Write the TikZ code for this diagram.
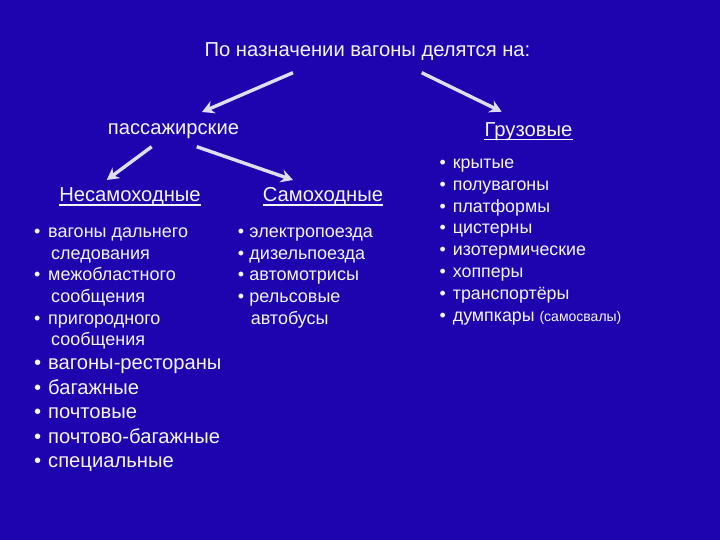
\documentclass[tikz,border=0pt]{standalone}
\usepackage{fontspec}
\setmainfont{Liberation Sans}
\usetikzlibrary{arrows.meta}
\definecolor{bg}{RGB}{30,4,174}
\definecolor{fg}{RGB}{244,244,250}
\definecolor{arrc}{RGB}{222,222,242}
\newcommand\bl[1][14pt]{\makebox[#1][l]{•}}
\newcommand\ind[1][15pt]{\hspace*{#1}}
\tikzset{
  lbl/.style={text=fg, inner sep=0pt, anchor=base, font=\fontsize{20.2}{20}\selectfont},
  lst/.style={text=fg, inner sep=0pt, anchor=north west, align=left},
  arr/.style={draw=arrc, line width=3.4pt, -{Stealth[length=12pt,width=13pt,inset=4pt]}},
  uline/.style={draw=fg, line width=1.4pt}
}
\begin{document}
\begin{tikzpicture}[x=1pt,y=-1pt]
\fill[bg] (0,0) rectangle (720,540);
\useasboundingbox (0,0) rectangle (720,540);

\node[lbl] (title) at (367.5,57) {По назначении вагоны делятся на:};
\node[lbl] (pass) at (173.5,135) {пассажирские};
\node[lbl] (gruz) at (528.5,136.5) {Грузовые};
\node[lbl] (nes) at (130,202) {Несамоходные};
\node[lbl] (sam) at (323,202) {Самоходные};

\foreach \n in {gruz,nes,sam}
  \draw[uline] ([yshift=-3pt]\n.base west) -- ([yshift=-3pt]\n.base east);

\draw[arr] ([xshift=-74.5pt,yshift=-15.7pt]title.base) -- ([xshift=28.5pt,yshift=23pt]pass.base);
\draw[arr] ([xshift=54.2pt,yshift=-15.7pt]title.base) -- ([xshift=-26.8pt,yshift=24.8pt]gruz.base);
\draw[arr] ([xshift=-21.8pt,yshift=-11.7pt]pass.base) -- ([xshift=-23.3pt,yshift=22pt]nes.base);
\draw[arr] ([xshift=23.2pt,yshift=-11.7pt]pass.base) -- ([xshift=-30pt,yshift=22pt]sam.base);

\node[lst, font=\fontsize{18}{21.6}\selectfont] (l1) at (34,227.8)
 {\bl вагоны дальнего\\ \ind[17pt]следования\\ \bl межобластного\\ \ind[17pt]сообщения\\ \bl пригородного\\ \ind[17pt]сообщения};
\node[lst, font=\fontsize{20.2}{24.5}\selectfont] (l2) at (34,358.8)
 {\bl вагоны-рестораны\\ \bl багажные\\ \bl почтовые\\ \bl почтово-багажные\\ \bl специальные};
\node[lst, font=\fontsize{18}{21.6}\selectfont] (m1) at (237.6,227.8)
 {\bl[11.7pt]электропоезда\\ \bl[11.7pt]дизельпоезда\\ \bl[11.7pt]автомотрисы\\ \bl[11.7pt]рельсовые\\ \ind[13pt]автобусы};
\node[lst, font=\fontsize{17.8}{21.9}\selectfont] (r1) at (439.5,158.5)
 {\bl[13.2pt]крытые\\ \bl[13.2pt]полувагоны\\ \bl[13.2pt]платформы\\ \bl[13.2pt]цистерны\\ \bl[13.2pt]изотермические\\ \bl[13.2pt]хопперы\\ \bl[13.2pt]транспортёры\\ \bl[13.2pt]думпкары {\fontsize{14}{14}\selectfont (самосвалы)}};
\end{tikzpicture}
\end{document}
